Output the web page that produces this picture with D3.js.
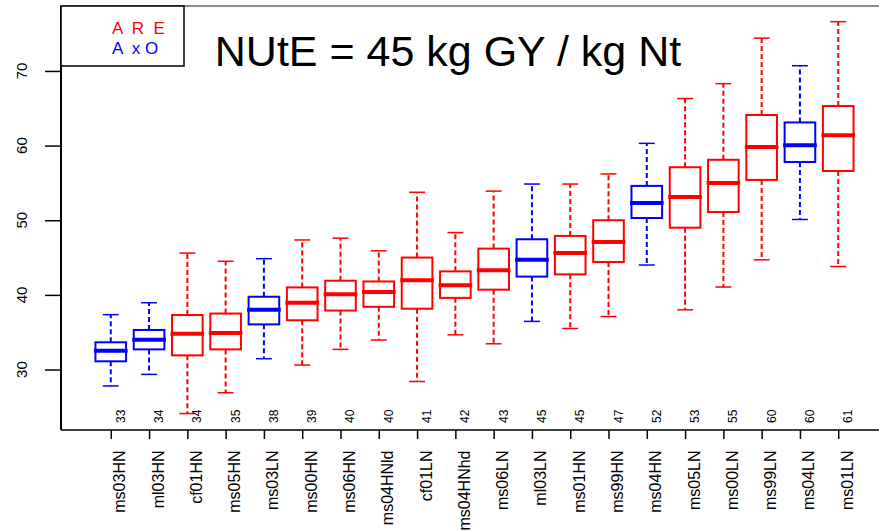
<!DOCTYPE html>
<html>
<head>
<meta charset="utf-8">
<script src="https://cdn.jsdelivr.net/npm/d3@7"></script>
<style>
  body { margin: 0; background: #fff; }
  svg { display: block; font-family: "Liberation Sans", Arial, sans-serif; }
</style>
</head>
<body>
<div id="vis"></div>
<script>
// datos
const genotypes = ["ms03HN", "ml03HN", "cf01HN", "ms05HN", "ms03LN", "ms00HN", "ms06HN", "ms04HNld", "cf01LN", "ms04HNhd",
  "ms06LN", "ml03LN", "ms01HN", "ms99HN", "ms04HN", "ms05LN", "ms00LN", "ms99LN", "ms04LN", "ms01LN"];
const groups = ["AxO", "AxO", "ARE", "ARE", "AxO", "ARE", "ARE", "ARE", "ARE", "ARE",
  "ARE", "AxO", "ARE", "ARE", "AxO", "ARE", "ARE", "ARE", "AxO", "ARE"];
const counts = [33, 34, 34, 35, 38, 39, 40, 40, 41, 42, 43, 45, 45, 47, 52, 53, 55, 60, 60, 61];
const whiskerLow = [27.8, 29.35, 24.1, 26.9, 31.45, 30.6, 32.7, 33.95, 28.4, 34.65, 33.45, 36.45, 35.5, 37.1, 44.0, 38.0, 41.05, 44.7, 50.1, 43.8];
const q1 = [31.1, 32.7, 31.9, 32.7, 36.05, 36.6, 37.9, 38.4, 38.15, 39.6, 40.7, 42.45, 42.75, 44.4, 50.3, 49.0, 51.1, 55.4, 57.8, 56.6];
const medians = [32.5, 34.0, 34.8, 34.9, 38.0, 38.95, 40.1, 40.4, 41.95, 41.3, 43.3, 44.7, 45.6, 47.1, 52.3, 53.1, 55.0, 59.8, 60.05, 61.4];
const q3 = [33.65, 35.3, 37.3, 37.5, 39.75, 41.0, 41.9, 41.8, 45.0, 43.15, 46.2, 47.45, 47.9, 50.0, 54.6, 57.1, 58.1, 64.1, 63.1, 65.3];
const whiskerHigh = [37.35, 38.95, 45.6, 44.5, 44.85, 47.36, 47.6, 45.9, 53.75, 48.35, 53.9, 54.85, 54.85, 56.2, 60.3, 66.3, 68.3, 74.4, 70.7, 76.6];
const yTicks = [30, 40, 50, 60, 70];
const legendItems = ["A  R  E", "A  x O"];
const legendGroups = ["ARE", "AxO"];
const title = "NUtE = 45 kg GY / kg Nt";

const WIDTH = 879;
const HEIGHT = 532;
const PLOT = { left: 61, top: 6, bottom: 430, right: 888 };

const color = d3.scaleOrdinal().domain(["ARE", "AxO"]).range(["#ff0000", "#0000ff"]);

const SVG = d3.select("#vis").append("svg")
  .attr("width", WIDTH)
  .attr("height", HEIGHT);

// escala x como en boxplot de R: 0.5..n+0.5 extendido 4%
const n = genotypes.length;
const ext = n * 0.04;
const x = d3.scaleLinear()
  .domain([0.5 - ext, n + 0.5 + ext])
  .range([PLOT.left, PLOT.right]);
const step = x(2) - x(1);
const boxW = step * 0.8;
const stapleW = boxW * 0.52;

const y = d3.scaleLinear()
  .domain([21.9, 78.7])
  .range([PLOT.bottom, PLOT.top]);

const data = genotypes.map((g, i) => ({
  name: g, group: groups[i], count: counts[i], idx: i + 1,
  lo: whiskerLow[i], q1: q1[i], med: medians[i], q3: q3[i], hi: whiskerHigh[i]
}));

// borde superior
SVG.append("line")
  .attr("x1", PLOT.left).attr("x2", WIDTH)
  .attr("y1", PLOT.top).attr("y2", PLOT.top)
  .attr("stroke", "#666").attr("stroke-width", 1.5);

const boxes = SVG.append("g").selectAll("g")
  .data(data)
  .enter()
  .append("g")
  .attr("stroke", d => color(d.group))
  .attr("fill", "none");

// bigotes
boxes.append("line")
  .attr("x1", d => x(d.idx)).attr("x2", d => x(d.idx))
  .attr("y1", d => y(d.q3)).attr("y2", d => y(d.hi))
  .attr("stroke-width", 2).attr("stroke-dasharray", "5,3");
boxes.append("line")
  .attr("x1", d => x(d.idx)).attr("x2", d => x(d.idx))
  .attr("y1", d => y(d.q1)).attr("y2", d => y(d.lo))
  .attr("stroke-width", 2).attr("stroke-dasharray", "5,3");

// topes
boxes.append("line")
  .attr("x1", d => x(d.idx) - stapleW / 2).attr("x2", d => x(d.idx) + stapleW / 2)
  .attr("y1", d => y(d.hi)).attr("y2", d => y(d.hi))
  .attr("stroke-width", 1.5);
boxes.append("line")
  .attr("x1", d => x(d.idx) - stapleW / 2).attr("x2", d => x(d.idx) + stapleW / 2)
  .attr("y1", d => y(d.lo)).attr("y2", d => y(d.lo))
  .attr("stroke-width", 1.5);

// cajas
boxes.append("rect")
  .attr("x", d => x(d.idx) - boxW / 2)
  .attr("width", boxW)
  .attr("y", d => y(d.q3))
  .attr("height", d => y(d.q1) - y(d.q3))
  .attr("stroke-width", 2);

// medianas
boxes.append("line")
  .attr("x1", d => x(d.idx) - boxW / 2 - 1.5).attr("x2", d => x(d.idx) + boxW / 2 + 1.5)
  .attr("y1", d => y(d.med)).attr("y2", d => y(d.med))
  .attr("stroke-width", 4);

// numeros sobre el eje x
SVG.append("g").selectAll("text")
  .data(data)
  .enter()
  .append("text")
  .attr("transform", d => `translate(${x(d.idx) + 14}, 423) rotate(-90)`)
  .attr("font-size", 12)
  .attr("fill", "#000")
  .text(d => d.count);

// eje y (ticks con d3, etiquetas giradas a mano)
const yAxis = SVG.append("g")
  .attr("transform", `translate(${PLOT.left}, 0)`)
  .call(d3.axisLeft(y).tickValues(yTicks).tickSize(16).tickFormat(""));
yAxis.select(".domain").remove();
yAxis.selectAll(".tick line").attr("stroke", "#000").attr("stroke-width", 1.5);

SVG.append("g").selectAll("text")
  .data(yTicks)
  .enter()
  .append("text")
  .attr("transform", d => `translate(26.5, ${y(d)}) rotate(-90)`)
  .attr("text-anchor", "middle")
  .attr("font-size", 15)
  .attr("fill", "#000")
  .text(d => d);

SVG.append("line")
  .attr("x1", PLOT.left).attr("x2", PLOT.left)
  .attr("y1", PLOT.top).attr("y2", PLOT.bottom)
  .attr("stroke", "#000").attr("stroke-width", 2);

// eje x
const xAxis = SVG.append("g")
  .attr("transform", `translate(0, ${PLOT.bottom})`)
  .call(d3.axisBottom(x).tickValues(d3.range(1, n + 1)).tickSize(9).tickFormat(""));
xAxis.select(".domain").remove();
xAxis.selectAll(".tick line").attr("stroke", "#000").attr("stroke-width", 1.5);

SVG.append("g").selectAll("text")
  .data(data)
  .enter()
  .append("text")
  .attr("transform", d => `translate(${x(d.idx) + 14.5}, 450.5) rotate(-90)`)
  .attr("text-anchor", "end")
  .attr("font-size", 16)
  .attr("fill", "#000")
  .text(d => d.name);

SVG.append("line")
  .attr("x1", PLOT.left).attr("x2", WIDTH)
  .attr("y1", PLOT.bottom).attr("y2", PLOT.bottom)
  .attr("stroke", "#000").attr("stroke-width", 1.5);

// leyenda
SVG.append("rect")
  .attr("x", PLOT.left).attr("y", PLOT.top)
  .attr("width", 123).attr("height", 60)
  .attr("fill", "#fff").attr("stroke", "#000").attr("stroke-width", 1.5);
SVG.append("g").selectAll("text")
  .data(legendItems)
  .enter()
  .append("text")
  .attr("x", 112)
  .attr("y", (d, i) => 34 + i * 20)
  .attr("font-size", 17)
  .style("white-space", "pre")
  .attr("fill", (d, i) => color(legendGroups[i]))
  .text(d => d);

// titulo
SVG.append("text")
  .attr("x", 448)
  .attr("y", 66)
  .attr("text-anchor", "middle")
  .attr("font-size", 43)
  .attr("fill", "#000")
  .text(title);
</script>
</body>
</html>
